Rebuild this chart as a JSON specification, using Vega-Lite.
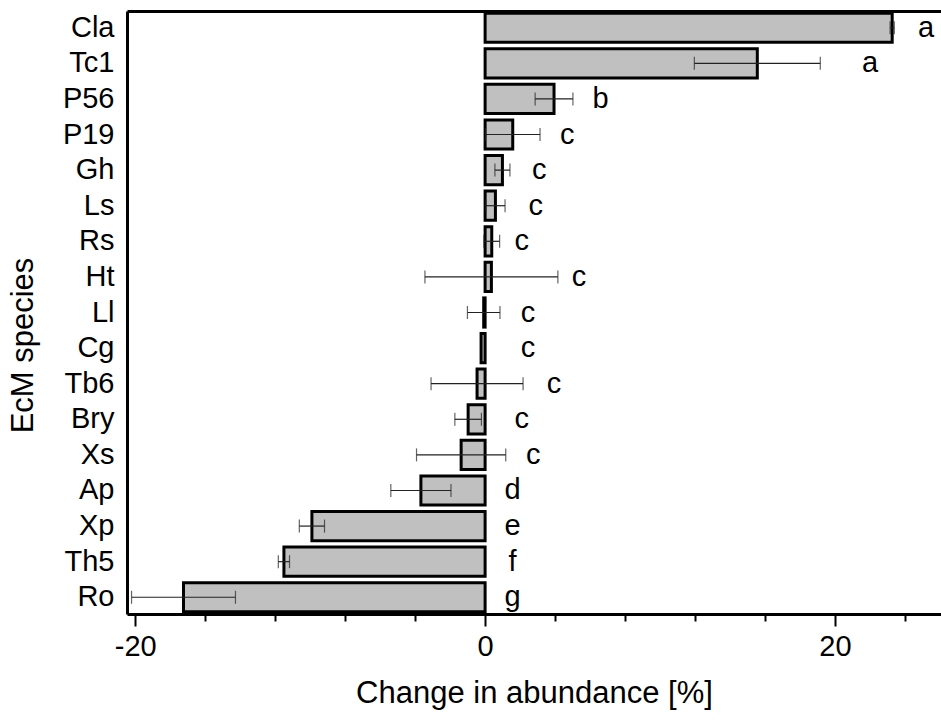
{
  "$schema": "https://vega.github.io/schema/vega-lite/v6.json",
  "autosize": "none",
  "width": 814,
  "height": 603,
  "padding": {"left": 127, "top": 11, "right": 0, "bottom": 108},
  "background": "white",
  "config": {
    "view": {"stroke": null},
    "font": "Liberation Sans",
    "axis": {"labelFont": "Liberation Sans", "titleFont": "Liberation Sans", "labelColor": "black", "titleColor": "black", "titleFontWeight": "normal", "grid": false, "domainColor": "black", "tickColor": "black"}
  },
  "data": {
    "values": [
      {"species": "Cla", "value": 23.27, "lo": 23.15, "hi": 23.39, "letter": "a", "label_x": 25.2},
      {"species": "Tc1", "value": 15.56, "lo": 11.96, "hi": 19.16, "letter": "a", "label_x": 22.0},
      {"species": "P56", "value": 3.94, "lo": 2.86, "hi": 5.02, "letter": "b", "label_x": 6.6},
      {"species": "P19", "value": 1.58, "lo": 0.02, "hi": 3.14, "letter": "c", "label_x": 4.7},
      {"species": "Gh", "value": 0.99, "lo": 0.56, "hi": 1.42, "letter": "c", "label_x": 3.1},
      {"species": "Ls", "value": 0.59, "lo": 0.04, "hi": 1.14, "letter": "c", "label_x": 2.9},
      {"species": "Rs", "value": 0.38, "lo": -0.07, "hi": 0.83, "letter": "c", "label_x": 2.1},
      {"species": "Ht", "value": 0.36, "lo": -3.44, "hi": 4.16, "letter": "c", "label_x": 5.37},
      {"species": "Ll", "value": -0.08, "lo": -1.01, "hi": 0.85, "letter": "c", "label_x": 2.45},
      {"species": "Cg", "value": -0.23, "lo": null, "hi": null, "letter": "c", "label_x": 2.45},
      {"species": "Tb6", "value": -0.46, "lo": -3.09, "hi": 2.17, "letter": "c", "label_x": 3.94},
      {"species": "Bry", "value": -0.97, "lo": -1.73, "hi": -0.21, "letter": "c", "label_x": 2.1},
      {"species": "Xs", "value": -1.37, "lo": -3.92, "hi": 1.18, "letter": "c", "label_x": 2.75},
      {"species": "Ap", "value": -3.67, "lo": -5.39, "hi": -1.95, "letter": "d", "label_x": 1.57},
      {"species": "Xp", "value": -9.9, "lo": -10.62, "hi": -9.18, "letter": "e", "label_x": 1.57},
      {"species": "Th5", "value": -11.5, "lo": -11.82, "hi": -11.18, "letter": "f", "label_x": 1.57},
      {"species": "Ro", "value": -17.24, "lo": -20.21, "hi": -14.27, "letter": "g", "label_x": 1.57}
    ]
  },
  "encoding": {
    "y": {
      "field": "species", "type": "nominal", "sort": null,
      "scale": {"paddingInner": 0.18, "paddingOuter": 0.06},
      "axis": {"title": "EcM species", "titleFontSize": 31, "labelFontSize": 29, "ticks": false, "domainWidth": 3, "labelPadding": 13, "titleX": -104, "titleY": 334, "titleBaseline": "middle", "titleAngle": -90}
    }
  },
  "layer": [
    {
      "mark": {"type": "bar", "fill": "#c0c0c0", "stroke": "black", "strokeWidth": 3},
      "encoding": {
        "x": {"field": "value", "type": "quantitative",
          "scale": {"domain": [-20.47, 26.06], "nice": false, "zero": false},
          "axis": {"orient": "bottom", "values": [-20, 0, 20], "labelExpr": "datum.value + ''", "tickSize": 12, "tickWidth": 2, "domainWidth": 3, "labelFontSize": 29, "labelPadding": 6, "title": "Change in abundance [%]", "titleFontSize": 31, "titlePadding": 17, "labelFlush": false}
        }
      }
    },
    {
      "mark": {"type": "rule", "color": "#222222", "strokeWidth": 1.2},
      "encoding": {
        "x": {"field": "lo", "type": "quantitative", "axis": {"orient": "bottom", "values": [-16, -12, -8, -4, 4, 8, 12, 16, 24], "tickSize": 7, "tickWidth": 2, "labels": false, "domain": false, "title": null}},
        "x2": {"field": "hi"}
      }
    },
    {
      "mark": {"type": "tick", "color": "#222222", "thickness": 1.2, "size": 13},
      "encoding": {"x": {"field": "lo", "type": "quantitative", "axis": null}}
    },
    {
      "mark": {"type": "tick", "color": "#222222", "thickness": 1.2, "size": 13},
      "encoding": {"x": {"field": "hi", "type": "quantitative", "axis": null}}
    },
    {
      "mark": {"type": "rule", "color": "black", "strokeWidth": 3},
      "encoding": {"x": {"datum": 0, "type": "quantitative", "axis": null}}
    },
    {
      "mark": {"type": "text", "fontSize": 29, "align": "center", "baseline": "middle", "color": "black"},
      "encoding": {
        "x": {"field": "label_x", "type": "quantitative", "axis": {"orient": "top", "ticks": false, "labels": false, "domainWidth": 3, "title": null}},
        "text": {"field": "letter"}
      }
    }
  ],
  "resolve": {"axis": {"x": "independent"}}
}
